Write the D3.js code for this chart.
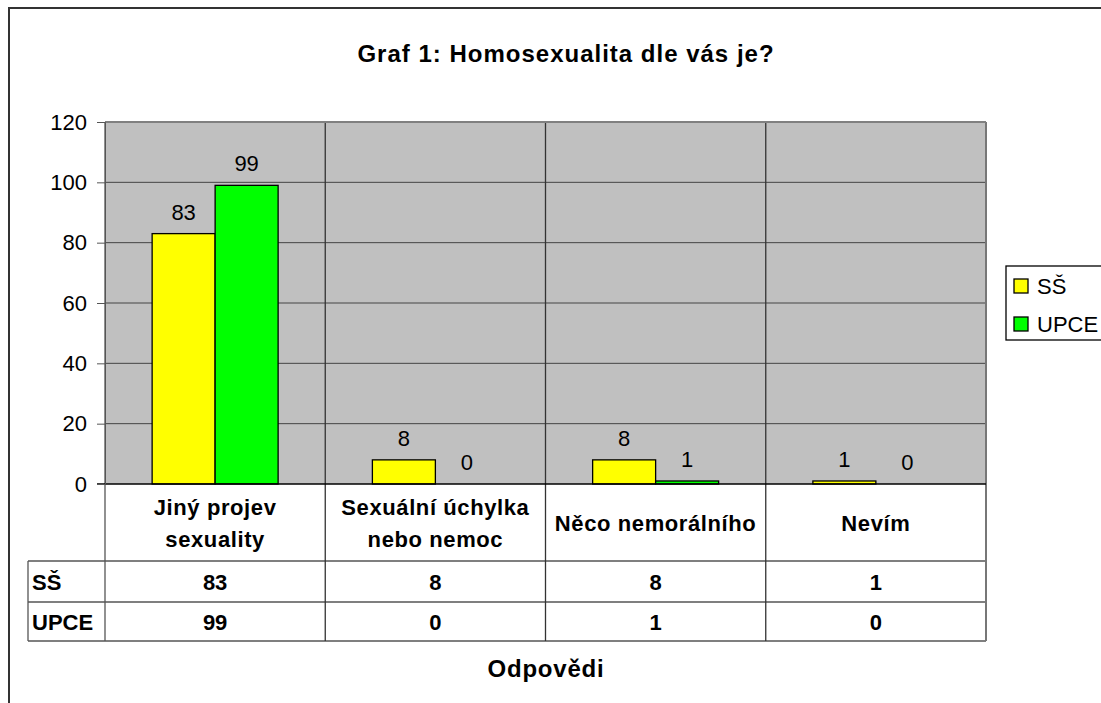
<!DOCTYPE html>
<meta charset="utf-8">
<head>
    <title>Graf 1</title>
    <script src="https://cdn.jsdelivr.net/npm/d3@7"></script>
</head>

<style>
    body { margin: 0; background: #fff; }
    text { font-family: "Liberation Sans", Arial, sans-serif; fill: #000; }
    .bold { font-weight: bold; }
</style>

<svg width="1101" height="703"></svg>

<script>
    var categories = [["Jiný projev", "sexuality"], ["Sexuální úchylka", "nebo nemoc"], ["Něco nemorálního"], ["Nevím"]];
    var seriesNames = ["SŠ", "UPCE"];
    var valuesSS = [83, 8, 8, 1];
    var valuesUPCE = [99, 0, 1, 0];
    var yTicks = [0, 20, 40, 60, 80, 100, 120];
    var colors = ["#FFFF00", "#00FF00"];

    var series = [valuesSS, valuesUPCE];
    var svg = d3.select('svg');

    // outer frame (only top and left visible)
    svg.append('path').attr('d', 'M9,703V8H1101').attr('fill', 'none')
        .attr('stroke', '#333').attr('stroke-width', 2);

    var plotLeft = 105, plotRight = 986, plotTop = 122, zeroY = 484;
    var x0 = d3.scaleBand().domain(d3.range(categories.length)).range([plotLeft, plotRight]);
    var bw = x0.bandwidth();
    var x1 = d3.scaleBand().domain(d3.range(seriesNames.length)).range([bw * 0.214, bw * 0.786]);
    var y = d3.scaleLinear().domain([0, 120]).range([zeroY, plotTop]);

    // plot background
    svg.append('rect').attr('x', plotLeft).attr('y', plotTop)
        .attr('width', plotRight - plotLeft).attr('height', zeroY - plotTop)
        .attr('fill', '#C0C0C0');

    // horizontal grid
    svg.append('g').selectAll('line').data(yTicks.slice(1)).enter().append('line')
        .attr('x1', plotLeft).attr('x2', plotRight)
        .attr('y1', function (d) { return y(d); }).attr('y2', function (d) { return y(d); })
        .attr('stroke', '#444').attr('stroke-width', 1);

    // table rows and lines
    var rowTop = 561, rowMid = 602, rowBot = 641, legLeft = 28;
    var tbl = svg.append('g').attr('stroke', '#555').attr('stroke-width', 1.3);
    [rowTop, rowMid, rowBot].forEach(function (ry) {
        tbl.append('line').attr('x1', legLeft).attr('x2', plotRight).attr('y1', ry).attr('y2', ry);
    });
    tbl.append('line').attr('x1', legLeft).attr('x2', legLeft).attr('y1', rowTop).attr('y2', rowBot);
    tbl.append('line').attr('x1', plotLeft).attr('x2', plotLeft).attr('y1', plotTop).attr('y2', rowBot);
    tbl.append('line').attr('x1', plotRight).attr('x2', plotRight).attr('y1', plotTop).attr('y2', rowBot)
        .attr('stroke', '#777').attr('stroke-width', 2);
    tbl.selectAll('.vcat').data(d3.range(1, categories.length)).enter().append('line')
        .attr('x1', function (d) { return x0(d); }).attr('x2', function (d) { return x0(d); })
        .attr('y1', plotTop).attr('y2', rowBot).attr('stroke', '#333');
    svg.append('line').attr('x1', plotLeft).attr('x2', plotRight).attr('y1', plotTop).attr('y2', plotTop)
        .attr('stroke', '#808080').attr('stroke-width', 2);

    // bars
    series.forEach(function (vals, si) {
        var g = svg.append('g');
        g.selectAll('rect').data(vals).enter().append('rect')
            .attr('x', function (d, i) { return x0(i) + x1(si); })
            .attr('y', function (d) { return y(d); })
            .attr('width', x1.bandwidth())
            .attr('height', function (d) { return zeroY - y(d); })
            .attr('fill', colors[si]).attr('stroke', '#000').attr('stroke-width', 1.3);
        g.selectAll('text').data(vals).enter().append('text')
            .attr('x', function (d, i) { return x0(i) + x1(si) + x1.bandwidth() / 2; })
            .attr('y', function (d) { return y(d) - 14; })
            .attr('text-anchor', 'middle').style('font-size', '22px')
            .text(function (d) { return d; });
    });

    // zero axis line
    svg.append('line').attr('x1', plotLeft - 8).attr('x2', plotRight).attr('y1', zeroY).attr('y2', zeroY)
        .attr('stroke', '#000').attr('stroke-width', 1.5);

    // y axis
    var yAxis = svg.append('g').attr('transform', 'translate(' + plotLeft + ',0)')
        .call(d3.axisLeft(y).tickValues(yTicks).tickSize(8).tickPadding(10));
    yAxis.select('.domain').attr('stroke', '#555');
    yAxis.selectAll('line').attr('stroke', '#555');
    yAxis.selectAll('text').style('font-size', '22px').style('font-family', '"Liberation Sans", Arial, sans-serif')
        .attr('fill', '#000');

    // category labels
    svg.append('g').selectAll('text').data(categories).enter().append('text')
        .attr('class', 'bold').attr('text-anchor', 'middle')
        .style('font-size', '22px').style('letter-spacing', '0.6px')
        .attr('transform', function (d, i) {
            var cy = (zeroY + rowTop) / 2 - (d.length - 1) * 16 + 8;
            return 'translate(' + (x0(i) + bw / 2) + ',' + cy + ')';
        })
        .each(function (d) {
            var t = d3.select(this);
            d.forEach(function (line, li) {
                t.append('tspan').attr('x', 0).attr('y', li * 32).text(line);
            });
        });

    // table data rows
    var rowCenters = [(rowTop + rowMid) / 2, (rowMid + rowBot) / 2];
    seriesNames.forEach(function (name, si) {
        svg.append('text').attr('class', 'bold').attr('x', legLeft + 4).attr('y', rowCenters[si] + 8)
            .style('font-size', '22px').text(name);
        svg.append('g').selectAll('text').data(series[si]).enter().append('text')
            .attr('class', 'bold').attr('text-anchor', 'middle')
            .attr('x', function (d, i) { return x0(i) + bw / 2; })
            .attr('y', rowCenters[si] + 8).style('font-size', '22px')
            .text(function (d) { return d; });
    });

    // titles
    svg.append('text').attr('class', 'bold').attr('x', 566).attr('y', 62).attr('text-anchor', 'middle')
        .style('font-size', '24px').style('letter-spacing', '1px').text('Graf 1: Homosexualita dle vás je?');
    svg.append('text').attr('class', 'bold').attr('x', 546).attr('y', 677).attr('text-anchor', 'middle')
        .style('font-size', '24px').style('letter-spacing', '0.8px').text('Odpovědi');

    // legend
    var leg = svg.append('g').attr('transform', 'translate(1006,266)');
    leg.append('rect').attr('width', 110).attr('height', 74).attr('fill', '#fff')
        .attr('stroke', '#000').attr('stroke-width', 1.3);
    seriesNames.forEach(function (name, si) {
        leg.append('rect').attr('x', 8).attr('y', 13 + si * 38).attr('width', 14).attr('height', 14)
            .attr('fill', colors[si]).attr('stroke', '#000').attr('stroke-width', 1.3);
        leg.append('text').attr('x', 31).attr('y', 28 + si * 38).style('font-size', '22px').text(name);
    });
</script>
